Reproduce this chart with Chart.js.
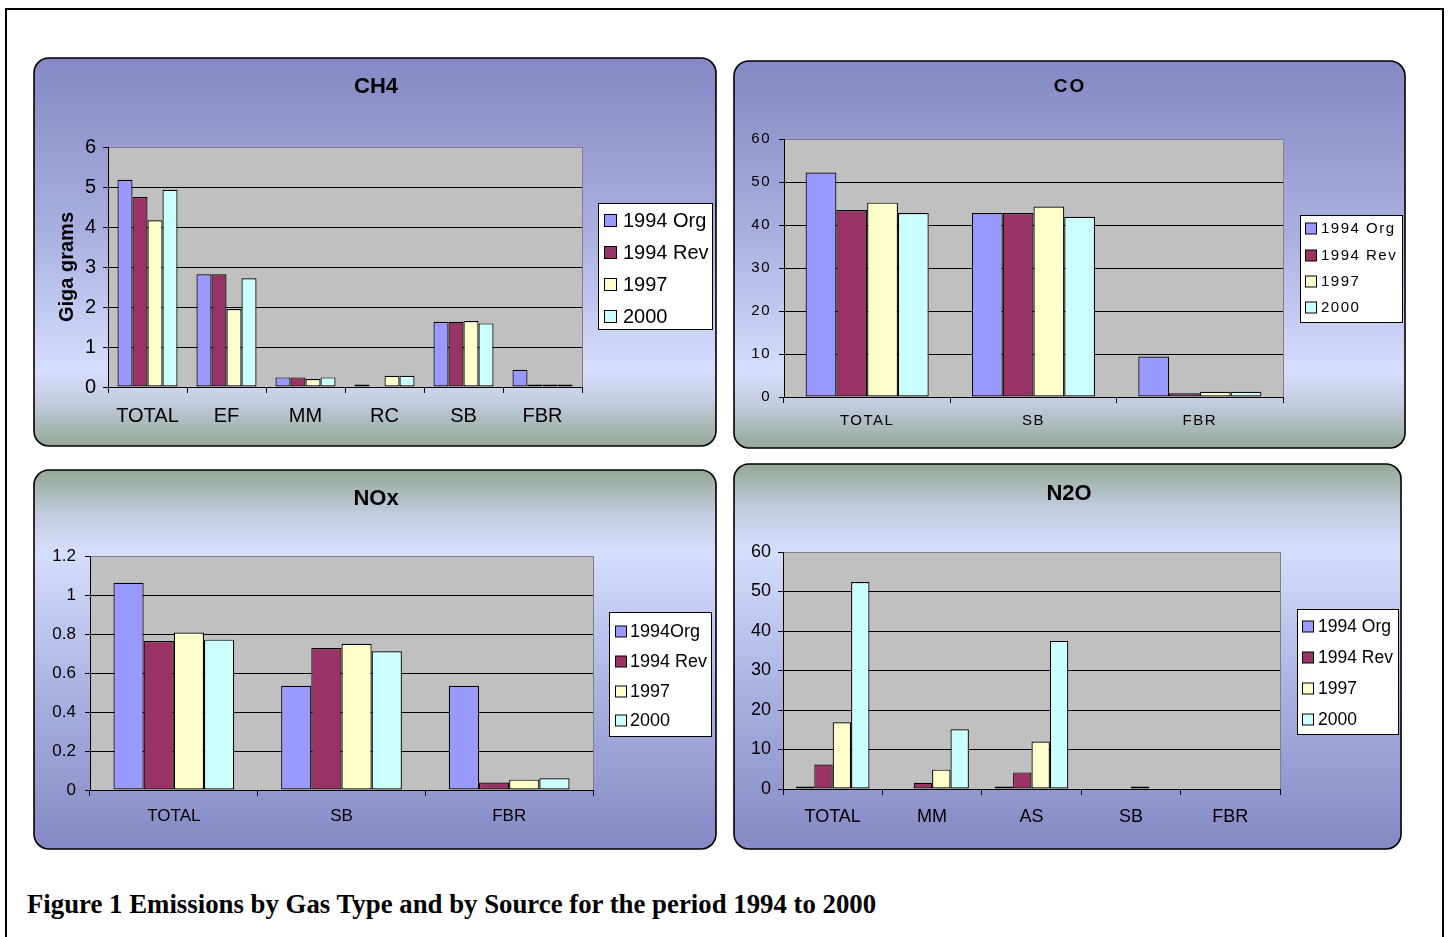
<!DOCTYPE html>
<html>
<head>
<meta charset="utf-8">
<title>Emissions by Gas Type and by Source, 1994 to 2000</title>
<script src="https://cdn.jsdelivr.net/npm/chart.js@4.4.1/dist/chart.umd.min.js"></script>
<style>
  html, body { margin: 0; padding: 0; background: #fff; }
  body { width: 1450px; height: 937px; position: relative; overflow: hidden; }
  #frame { position: absolute; left: 5px; top: 8px; width: 1439px; height: 1000px;
           border: 2px solid #000; box-sizing: border-box; }
  canvas.panel { position: absolute; }
  #caption { position: absolute; left: 27px; top: 889px; white-space: nowrap; line-height: 31px;
             font: bold 26.8px "Liberation Serif", "Times New Roman", serif; color: #000; }
</style>
</head>
<body>
<div id="frame"></div>
<canvas id="ch4" class="panel" width="685" height="391" style="left:33px;top:57px"></canvas>
<canvas id="co"  class="panel" width="674" height="390" style="left:733px;top:60px"></canvas>
<canvas id="nox" class="panel" width="685" height="382" style="left:33px;top:469px"></canvas>
<canvas id="n2o" class="panel" width="670" height="388" style="left:733px;top:463px"></canvas>
<div id="caption">Figure 1 Emissions by Gas Type and by Source for the period 1994 to 2000</div>

<script>
// ---- series shared by every panel ----
const seriesColors = ['#9999ff', '#993366', '#ffffcc', '#ccffff'];
const seriesLabels = ['1994 Org', '1994 Rev', '1997', '2000'];
const noxSeriesLabels = ['1994Org', '1994 Rev', '1997', '2000'];

// ---- CH4 (Giga grams); null = no emission reported ----
const ch4Sources = ['TOTAL', 'EF', 'MM', 'RC', 'SB', 'FBR'];
const ch4Org1994 = [5.18, 2.82, 0.24, 0.04, 1.63, 0.43];
const ch4Rev1994 = [4.75, 2.82, 0.24, null, 1.63, 0.04];
const ch4Yr1997  = [4.17, 1.95, 0.20, 0.28, 1.65, 0.04];
const ch4Yr2000  = [4.93, 2.72, 0.24, 0.28, 1.59, 0.04];
const ch4TickLabels = ['0', '1', '2', '3', '4', '5', '6'];

// ---- CO ----
const coSources = ['TOTAL', 'SB', 'FBR'];
const coOrg1994 = [52.2, 42.8, 9.4];
const coRev1994 = [43.5, 42.8, 0.85];
const coYr1997  = [45.2, 44.3, 1.2];
const coYr2000  = [42.8, 41.9, 1.2];
const coTickLabels = ['0', '10', '20', '30', '40', '50', '60'];

// ---- NOx ----
const noxSources = ['TOTAL', 'SB', 'FBR'];
const noxOrg1994 = [1.063, 0.534, 0.534];
const noxRev1994 = [0.764, 0.728, 0.038];
const noxYr1997  = [0.808, 0.750, 0.053];
const noxYr2000  = [0.771, 0.711, 0.060];
const noxTickLabels = ['0', '0.2', '0.4', '0.6', '0.8', '1', '1.2'];

// ---- N2O ----
const n2oSources = ['TOTAL', 'MM', 'AS', 'SB', 'FBR'];
const n2oOrg1994 = [0.4, null, 0.4, null, null];
const n2oRev1994 = [6.2, 1.6, 4.2, null, null];
const n2oYr1997  = [16.9, 4.9, 12.0, 0.4, null];
const n2oYr2000  = [52.4, 15.1, 37.5, null, null];
const n2oTickLabels = ['0', '10', '20', '30', '40', '50', '60'];

const SANS = '"Liberation Sans", Arial, sans-serif';

// Panel background gradients: purple fading to pale blue and grey-green, or the reverse
const TOP_PURPLE = [[0, '#8488c4'], [0.45, '#a9b0e0'], [0.80, '#d6defd'], [0.88, '#c3cde0'], [1, '#93a793']];
const TOP_GREEN  = [[0, '#93a793'], [0.12, '#c3cde0'], [0.22, '#d6defd'], [0.60, '#a9b0e0'], [1, '#8488c4']];

function roundedRect(ctx, x, y, w, h, r) {
  ctx.beginPath();
  ctx.moveTo(x + r, y);
  ctx.lineTo(x + w - r, y);
  ctx.arcTo(x + w, y, x + w, y + r, r);
  ctx.lineTo(x + w, y + h - r);
  ctx.arcTo(x + w, y + h, x + w - r, y + h, r);
  ctx.lineTo(x + r, y + h);
  ctx.arcTo(x, y + h, x, y + h - r, r);
  ctx.lineTo(x, y + r);
  ctx.arcTo(x, y, x + r, y, r);
  ctx.closePath();
}

// Draws the rounded panel, grey plot area, chart title and boxed legend
function panelDecor(p) {
  return {
    id: 'panelDecor',
    beforeDraw(chart) {
      const ctx = chart.ctx;
      const w = chart.width, h = chart.height;
      ctx.save();
      const g = ctx.createLinearGradient(0, 0, 0, h);
      p.stops.forEach(s => g.addColorStop(s[0], s[1]));
      roundedRect(ctx, 1, 1, w - 3, h - 3, 15);
      ctx.fillStyle = g;
      ctx.fill();
      ctx.lineWidth = 1.6;
      ctx.strokeStyle = '#000';
      ctx.stroke();
      const a = chart.chartArea;
      ctx.fillStyle = '#c0c0c0';
      ctx.fillRect(a.left, a.top, a.right - a.left, a.bottom - a.top);
      ctx.strokeStyle = '#808080';
      ctx.lineWidth = 1;
      ctx.strokeRect(Math.round(a.left) + 0.5, Math.round(a.top) + 0.5,
                     Math.round(a.right - a.left), Math.round(a.bottom - a.top));
      ctx.restore();
      ctx.letterSpacing = p.spacing || '0px';
    },
    afterDraw(chart) {
      const ctx = chart.ctx;
      ctx.save();
      ctx.letterSpacing = p.titleSpacing || p.spacing || '0px';
      ctx.fillStyle = '#000';
      ctx.font = 'bold ' + p.titleSize + 'px ' + SANS;
      ctx.textAlign = 'center';
      ctx.textBaseline = 'middle';
      ctx.fillText(p.title, p.titleX, p.titleY);

      const L = p.legend;
      ctx.letterSpacing = p.spacing || '0px';
      ctx.fillStyle = '#fff';
      ctx.fillRect(L.x, L.y, L.w, L.h);
      ctx.strokeStyle = '#000';
      ctx.lineWidth = 1;
      ctx.strokeRect(L.x + 0.5, L.y + 0.5, L.w, L.h);
      ctx.font = L.size + 'px ' + SANS;
      ctx.textAlign = 'left';
      chart.data.datasets.forEach((ds, i) => {
        const cy = L.rows[i];
        ctx.fillStyle = ds.backgroundColor;
        ctx.fillRect(L.sx + 0.5, cy - L.sw / 2 + 0.5, L.sw, L.sw);
        ctx.strokeStyle = '#000';
        ctx.strokeRect(L.sx + 0.5, cy - L.sw / 2 + 0.5, L.sw, L.sw);
        ctx.fillStyle = '#000';
        ctx.fillText(ds.label, L.tx, cy + 1);
      });
      ctx.restore();
      ctx.letterSpacing = '0px';
    }
  };
}

function makeChart(id, p) {
  const tickValues = p.tickLabels.map(Number);
  const yMax = tickValues[tickValues.length - 1];
  const datasets = p.series.map((vals, i) => ({
    label: p.labels[i],
    data: vals,
    backgroundColor: seriesColors[i],
    borderColor: '#000',
    borderWidth: 1.2,
    borderSkipped: false,
    minBarLength: 2.5,
    categoryPercentage: p.catPct,
    barPercentage: 1
  }));
  const yScale = {
    min: 0, max: yMax,
    afterBuildTicks: s => { s.ticks = tickValues.map(v => ({ value: v })); },
    afterFit: s => { s.width = p.yWidth; },
    ticks: {
      color: '#000', padding: p.yPad,
      font: { family: SANS, size: p.tickSize },
      callback: (v, i) => p.tickLabels[i]
    },
    grid: {
      color: c => (c.tick && c.tick.value === yMax) ? '#808080' : '#000',
      lineWidth: 1, tickLength: 5, drawTicks: true,
      tickColor: '#000'
    },
    border: { display: true, color: '#000', width: 1 }
  };
  if (p.yTitle) {
    yScale.title = {
      display: true, text: p.yTitle, color: '#000',
      font: { family: SANS, size: 20, weight: 'bold' },
      padding: { top: p.yTitlePad, bottom: 0 }
    };
  }
  return new Chart(document.getElementById(id), {
    type: 'bar',
    data: { labels: p.categories, datasets },
    options: {
      responsive: false,
      animation: false,
      events: [],
      layout: { padding: p.padding },
      plugins: { legend: { display: false }, title: { display: false }, tooltip: { enabled: false } },
      scales: {
        x: {
          afterFit: s => { s.height = 40; },
          ticks: {
            color: '#000', padding: p.xPad, maxRotation: 0, autoSkip: false,
            font: { family: SANS, size: p.tickSize }
          },
          grid: { drawOnChartArea: false, drawTicks: true, tickLength: 6, tickColor: '#000', offset: true },
          border: { display: true, color: '#000', width: 1 }
        },
        y: yScale
      }
    },
    plugins: [panelDecor(p)]
  });
}

makeChart('ch4', {
  categories: ch4Sources,
  series: [ch4Org1994, ch4Rev1994, ch4Yr1997, ch4Yr2000],
  labels: seriesLabels,
  tickLabels: ch4TickLabels,
  stops: TOP_PURPLE,
  title: 'CH4', titleSize: 22, titleX: 343, titleY: 30,
  yTitle: 'Giga grams', yTitlePad: 7,
  padding: { left: 15, top: 90, right: 136, bottom: 21 },
  yWidth: 60, yPad: 7, xPad: 11, tickSize: 20, catPct: 0.76,
  legend: { x: 565, y: 146, w: 114, h: 126, sx: 571, sw: 12, tx: 590, size: 20,
            rows: [163, 195, 227, 259] }
});

makeChart('co', {
  categories: coSources,
  series: [coOrg1994, coRev1994, coYr1997, coYr2000],
  labels: seriesLabels,
  tickLabels: coTickLabels,
  stops: TOP_PURPLE,
  title: 'CO', titleSize: 19, titleX: 337, titleY: 27, titleSpacing: '2px',
  spacing: '1.5px',
  padding: { left: 11, top: 79, right: 124, bottom: 13 },
  yWidth: 40, yPad: 8, xPad: 9, tickSize: 15, catPct: 0.74,
  legend: { x: 567, y: 155, w: 102, h: 107, sx: 572, sw: 11, tx: 588, size: 15,
            rows: [168, 195, 221, 247] }
});

makeChart('nox', {
  categories: noxSources,
  series: [noxOrg1994, noxRev1994, noxYr1997, noxYr2000],
  labels: noxSeriesLabels,
  tickLabels: noxTickLabels,
  stops: TOP_GREEN,
  title: 'NOx', titleSize: 22, titleX: 343, titleY: 30,
  padding: { left: 12, top: 87, right: 125, bottom: 21 },
  yWidth: 45, yPad: 9, xPad: 10, tickSize: 17, catPct: 0.72,
  legend: { x: 576, y: 143, w: 102, h: 124, sx: 582, sw: 11, tx: 597, size: 18,
            rows: [162, 192, 222, 251] }
});

makeChart('n2o', {
  categories: n2oSources,
  series: [n2oOrg1994, n2oRev1994, n2oYr1997, n2oYr2000],
  labels: seriesLabels,
  tickLabels: n2oTickLabels,
  stops: TOP_GREEN,
  title: 'N2O', titleSize: 22, titleX: 336, titleY: 31,
  padding: { left: 10, top: 89, right: 123, bottom: 22 },
  yWidth: 40, yPad: 7, xPad: 11, tickSize: 18, catPct: 0.74,
  legend: { x: 564, y: 146, w: 101, h: 125, sx: 569, sw: 11, tx: 585, size: 17.5,
            rows: [163, 194, 225, 256] }
});
</script>
</body>
</html>
